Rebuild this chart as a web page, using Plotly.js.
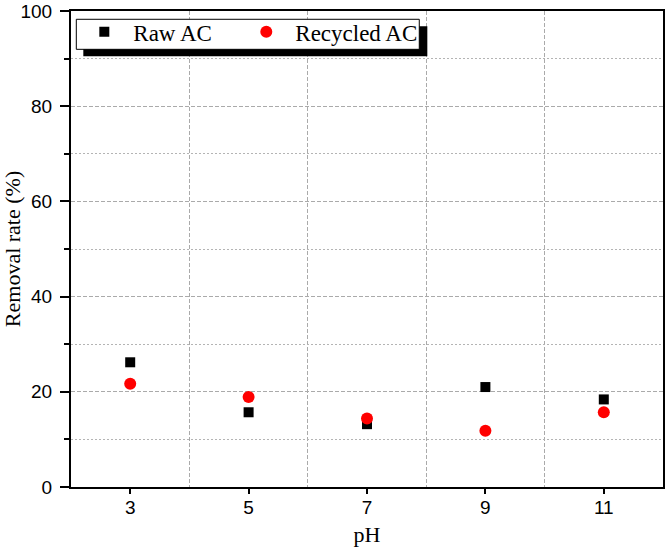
<!DOCTYPE html>
<html>
<head>
<meta charset="utf-8">
<script src="https://cdn.plot.ly/plotly-3.0.1.min.js"></script>
<style>html,body{margin:0;padding:0;background:#fff;}</style>
</head>
<body>
<div id="chart" style="width:666px;height:551px;"></div>
<script>
const pH = [3, 5, 7, 9, 11];
const rawAC = [26.2, 15.7, 13.2, 21.0, 18.4];
const recycledAC = [21.7, 18.9, 14.4, 11.8, 15.7];

const serif = 'Liberation Serif, Times New Roman, serif';
const sans = 'Liberation Sans, Arial, sans-serif';

const traces = [
  {x: pH, y: rawAC, name: 'Raw AC', type: 'scatter', mode: 'markers', legend: 'legend',
   marker: {symbol: 'square', size: 10, color: '#000000'}},
  {x: pH, y: recycledAC, name: 'Recycled AC', type: 'scatter', mode: 'markers', legend: 'legend2',
   marker: {symbol: 'circle', size: 12, color: '#ff0000'}}
];

const legendCommon = {
  orientation: 'h', y: 1.0015, xanchor: 'left', yanchor: 'top',
  bgcolor: 'rgba(0,0,0,0)', borderwidth: 0,
  font: {family: serif, size: 23, color: '#000'},
  itemwidth: 48
};

const layout = {
  width: 666, height: 551,
  margin: {l: 71, r: 3, t: 11, b: 64},
  paper_bgcolor: '#ffffff', plot_bgcolor: '#ffffff',
  showlegend: true,
  xaxis: {
    range: [2, 12], tick0: 3, dtick: 2,
    ticks: 'outside', ticklen: 5, tickwidth: 2, tickcolor: '#000',
    showline: true, mirror: true, linewidth: 2, linecolor: '#000',
    showgrid: false, zeroline: false,
    tickfont: {family: sans, size: 19, color: '#000'},
    ticklabelstandoff: -3,
    minor: {tick0: 2, dtick: 1, ticks: '', showgrid: true, gridcolor: '#aaaaaa', gridwidth: 1, griddash: '4px,2px'},
    title: {text: 'pH', font: {family: serif, size: 22, color: '#000'}, standoff: 10}
  },
  yaxis: {
    range: [0, 100], tick0: 0, dtick: 20,
    ticks: 'outside', ticklen: 9, tickwidth: 2, tickcolor: '#000',
    showline: true, mirror: true, linewidth: 2, linecolor: '#000',
    showgrid: true, gridcolor: '#aaaaaa', gridwidth: 1, griddash: '4px,2px',
    zeroline: false,
    tickfont: {family: sans, size: 19, color: '#000'},
    ticklabelstandoff: 4,
    minor: {tick0: 0, dtick: 10, ticks: 'outside', ticklen: 5, tickwidth: 2, tickcolor: '#000',
            showgrid: true, gridcolor: '#b4b4b4', gridwidth: 1, griddash: '2px,2px'},
    title: {text: 'Removal rate (%)', font: {family: serif, size: 22, color: '#000'}, standoff: 6}
  },
  legend: Object.assign({}, legendCommon, {x: 0.0073}),
  legend2: Object.assign({}, legendCommon, {x: 0.2809}),
  shapes: [
    {type: 'rect', xref: 'paper', yref: 'paper', x0: 0.0208, x1: 0.6019, y0: 0.9048, y1: 0.9679,
     fillcolor: '#000000', line: {width: 0}, layer: 'above'},
    {type: 'rect', xref: 'paper', yref: 'paper', x0: 0.00895, x1: 0.5883, y0: 0.9195, y1: 0.9826,
     fillcolor: '#ffffff', line: {width: 1, color: '#000000'}, layer: 'above'}
  ]
};

Plotly.newPlot('chart', traces, layout, {displayModeBar: false, staticPlot: true});
</script>
</body>
</html>
